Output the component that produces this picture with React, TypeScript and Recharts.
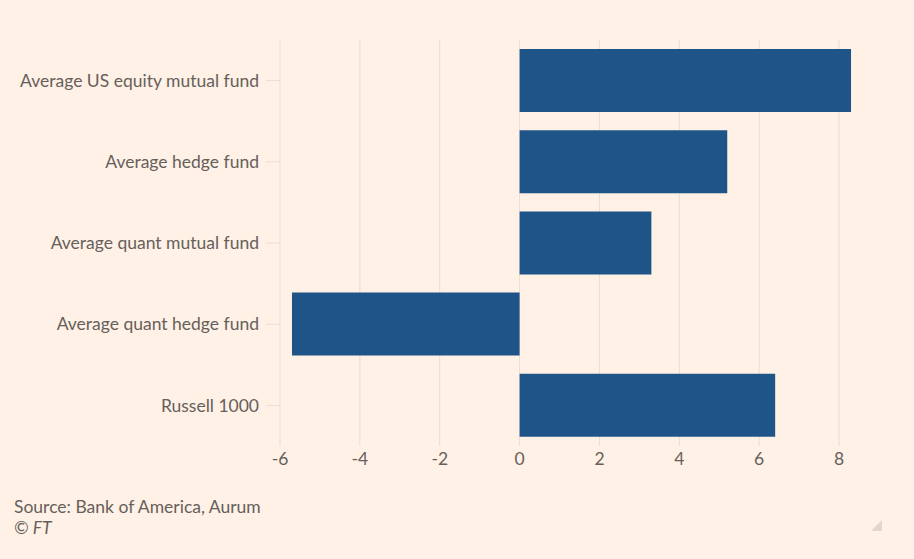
import React from "react";
import { BarChart, Bar, XAxis, YAxis, CartesianGrid } from "recharts";

const categories = [
  "Average US equity mutual fund",
  "Average hedge fund",
  "Average quant mutual fund",
  "Average quant hedge fund",
  "Russell 1000",
];
const values = [8.3, 5.2, 3.3, -5.7, 6.4];
const xTicks = [-6, -4, -2, 0, 2, 4, 6, 8];
const sourceText = "Source: Bank of America, Aurum";
const creditText = "© FT";

const data = categories.map((name, i) => ({ name, value: values[i] }));

const FONT = "Lato, 'Open Sans', sans-serif";
const TEXT = "#66605C";
const GRID = "#E9DED4";

const gridGen = (props: any) => {
  const s = props && props.xAxis && props.xAxis.scale;
  if (s && typeof s === "function") return xTicks.map((t) => s(t));
  if (s && typeof s.map === "function") return xTicks.map((t) => s.map(t));
  const off = props.offset;
  return xTicks.map((t) => off.left + ((t + 6) / 15) * off.width);
};

export default function App() {
  return (
    <div
      style={{
        position: "absolute",
        left: 0,
        top: 0,
        width: 914,
        height: 559,
        background: "#FFF1E5",
        fontFamily: FONT,
        overflow: "hidden",
      }}
    >
      <BarChart
        width={914}
        height={559}
        data={data}
        layout="vertical"
        margin={{ top: 40, right: 35, bottom: 83, left: 0 }}
        barSize={63}
      >
        <CartesianGrid
          horizontal={false}
          stroke={GRID}
          strokeWidth={1}
          verticalCoordinatesGenerator={gridGen}
        />
        <XAxis
          type="number"
          domain={[-6, 9]}
          ticks={xTicks}
          axisLine={false}
          tickLine={false}
          tickSize={0}
          tickMargin={7}
          height={30}
          tick={{ fill: TEXT, fontSize: 17.5, fontFamily: FONT }}
        />
        <YAxis
          type="category"
          dataKey="name"
          width={280}
          axisLine={false}
          tickLine={{ stroke: GRID }}
          tickSize={14}
          tickMargin={7}
          tick={{ fill: TEXT, fontSize: 17.5, fontFamily: FONT }}
        />
        <Bar dataKey="value" fill="#1F5488" isAnimationActive={false} />
      </BarChart>
      <div
        style={{
          position: "absolute",
          left: 14,
          top: 496,
          fontSize: 17.5,
          color: TEXT,
          lineHeight: "21px",
        }}
      >
        <div>{sourceText}</div>
        <div style={{ fontStyle: "italic" }}>{creditText}</div>
      </div>
      <div
        style={{
          position: "absolute",
          left: 871,
          top: 520,
          width: 0,
          height: 0,
          borderLeft: "11px solid transparent",
          borderBottom: "11px solid #E0D6CC",
        }}
      />
    </div>
  );
}
